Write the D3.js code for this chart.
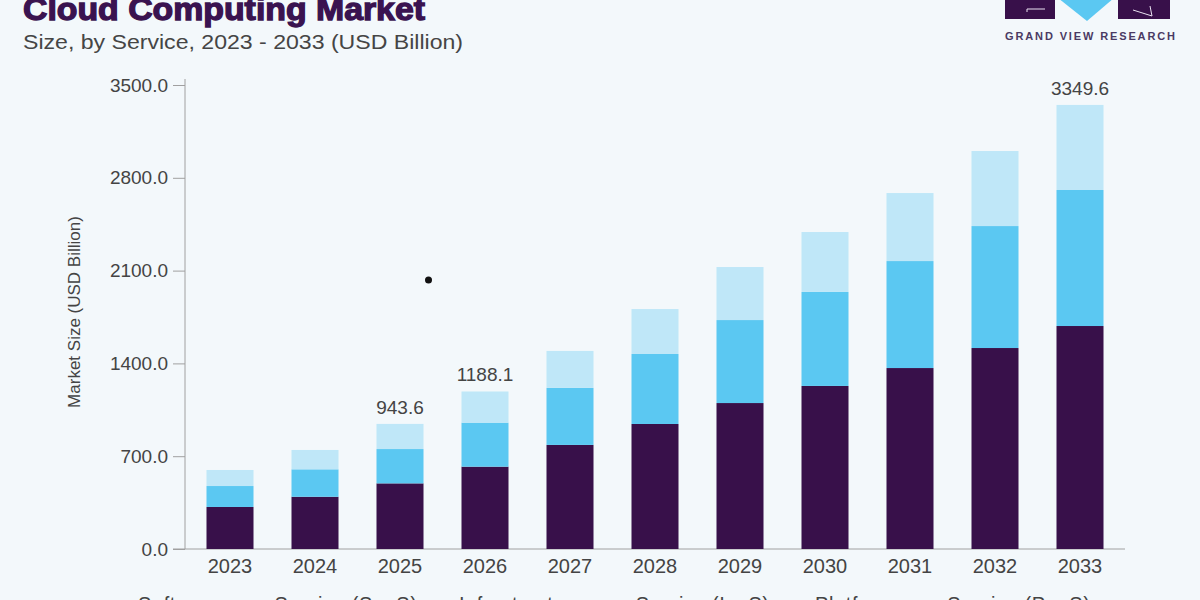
<!DOCTYPE html>
<html>
<head>
<meta charset="utf-8">
<script src="https://cdn.jsdelivr.net/npm/d3@7"></script>
<style>
  html, body { margin: 0; padding: 0; background: #f3f8fb; }
  svg { display: block; font-family: "Liberation Sans", Arial, sans-serif; }
</style>
</head>
<body>
<div id="chart"></div>
<script>
// values (USD Billion)
var years = ['2023', '2024', '2025', '2026', '2027', '2028', '2029', '2030', '2031', '2032', '2033'];
var saas = [317, 394, 495, 621, 785, 943, 1101, 1230, 1365, 1516, 1682];
var iaas = [158, 207, 259, 332, 430, 528, 626, 709, 807, 920, 1026];
var paas = [121, 146, 189.6, 235.1, 279, 339, 400, 452, 513, 566, 641.6];
var seriesNames = ['Software as a Service (SaaS)', 'Infrastructure as a Service (IaaS)', 'Platform as a Service (PaaS)'];
var seriesColors = ['#38104a', '#5bc8f2', '#bfe7f8'];
var yTicks = [0, 700, 1400, 2100, 2800, 3500];
var labelledYears = ['2025', '2026', '2033'];

var width = 1200, height = 600;
var svg = d3.select('#chart').append('svg').attr('width', width).attr('height', height);

svg.append('rect').attr('width', width).attr('height', height).attr('fill', '#f3f8fb');

var rows = years.map(function(y, i) {
  return { year: y, s0: saas[i], s1: iaas[i], s2: paas[i] };
});
var stack = d3.stack().keys(['s0', 's1', 's2']);
var layers = stack(rows);

var x = d3.scaleBand().domain(years).range([187.5, 1122.5]).paddingInner(0.447).paddingOuter(0.2235);
var y = d3.scaleLinear().domain([0, 3500]).range([549, 85]);

// title
svg.append('text').attr('x', 23).attr('y', 20)
  .attr('font-size', 31).attr('font-weight', 'bold').attr('fill', '#3a1350')
  .attr('stroke', '#3a1350').attr('stroke-width', 1.3)
  .attr('textLength', 402).attr('lengthAdjust', 'spacingAndGlyphs')
  .text('Cloud Computing Market');
svg.append('text').attr('x', 23).attr('y', 49)
  .attr('font-size', 20).attr('fill', '#454545')
  .attr('textLength', 440).attr('lengthAdjust', 'spacingAndGlyphs')
  .text('Size, by Service, 2023 - 2033 (USD Billion)');

// logo
var logo = svg.append('g');
logo.append('rect').attr('x', 1005).attr('y', -2).attr('width', 50).attr('height', 21).attr('fill', '#38104a');
logo.append('rect').attr('x', 1118).attr('y', -2).attr('width', 52).attr('height', 21).attr('fill', '#38104a');
logo.append('path').attr('d', 'M1058,-2 L1114,-2 L1087,21 Z').attr('fill', '#5bc8f2');
logo.append('path').attr('d', 'M1027,12 L1027,9 L1045,9').attr('stroke', '#e9e1f0').attr('stroke-width', 1).attr('fill', 'none');
logo.append('path').attr('d', 'M1133,10 L1152,16 M1150,6 L1152,16').attr('stroke', '#e9e1f0').attr('stroke-width', 1).attr('fill', 'none');
logo.append('text').attr('x', 1005).attr('y', 40)
  .attr('font-size', 11).attr('font-weight', 'bold').attr('fill', '#4a3a63')
  .attr('textLength', 170).attr('lengthAdjust', 'spacing')
  .text('GRAND VIEW RESEARCH');

// axes
var yAxis = svg.append('g').attr('transform', 'translate(185,0)')
  .call(d3.axisLeft(y).tickValues(yTicks).tickSize(12).tickPadding(5).tickFormat(d3.format('.1f')));
yAxis.select('.domain').attr('stroke', '#a0a0a0').attr('d', 'M0,79V549');
yAxis.selectAll('.tick line').attr('stroke', '#a0a0a0');
yAxis.selectAll('.tick text').attr('font-size', 19).attr('fill', '#444').attr('font-family', '"Liberation Sans", Arial, sans-serif');

var xAxis = svg.append('g').attr('transform', 'translate(0,549)')
  .call(d3.axisBottom(x).tickSize(0).tickPadding(10));
xAxis.select('.domain').attr('stroke', '#a0a0a0').attr('d', 'M173,0H1125');
xAxis.selectAll('.tick text').attr('font-size', 20).attr('fill', '#444').attr('font-family', '"Liberation Sans", Arial, sans-serif');

svg.append('text')
  .attr('transform', 'translate(80,312) rotate(-90)')
  .attr('text-anchor', 'middle').attr('font-size', 17).attr('fill', '#444')
  .text('Market Size (USD Billion)');

// bars
svg.append('g').selectAll('g').data(layers).join('g')
  .attr('fill', function(d, i) { return seriesColors[i]; })
  .selectAll('rect').data(function(d) { return d; }).join('rect')
  .attr('x', function(d) { return x(d.data.year); })
  .attr('width', x.bandwidth())
  .attr('y', function(d) { return y(d[1]); })
  .attr('height', function(d) { return y(d[0]) - y(d[1]); });

// totals
var topLayer = layers[layers.length - 1];
svg.append('g').selectAll('text')
  .data(topLayer.filter(function(d) { return labelledYears.indexOf(d.data.year) >= 0; }))
  .join('text')
  .attr('x', function(d) { return x(d.data.year) + x.bandwidth() / 2; })
  .attr('y', function(d) { return y(d[1]) - 10; })
  .attr('text-anchor', 'middle').attr('font-size', 19).attr('fill', '#444')
  .text(function(d) { return d3.format('.1f')(d[1]); });

// stray dot in the source picture
svg.append('circle')
  .attr('cx', x('2025') + x.bandwidth() + 5).attr('cy', y(2030)).attr('r', 3.5).attr('fill', '#111');

// legend (cut off by the bottom edge)
var legendX = [119, 440, 796];
var legendLen = [279, 310, 275];
var legend = svg.append('g').selectAll('g').data(seriesNames).join('g')
  .attr('transform', function(d, i) { return 'translate(' + legendX[i] + ',604)'; });
legend.append('circle').attr('r', 4).attr('fill', function(d, i) { return seriesColors[i]; });
legend.append('text').attr('x', 19).attr('y', 7).attr('font-size', 20).attr('fill', '#444')
  .attr('textLength', function(d, i) { return legendLen[i]; }).attr('lengthAdjust', 'spacing')
  .text(function(d) { return d; });
</script>
</body>
</html>
